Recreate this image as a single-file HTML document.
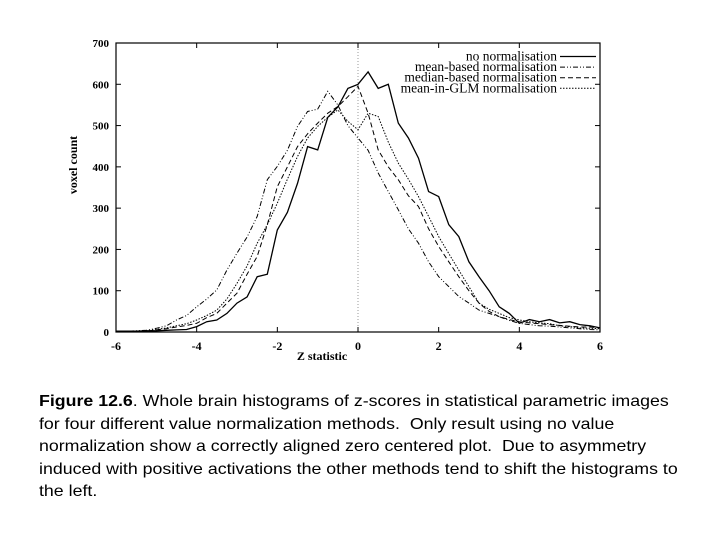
<!DOCTYPE html>
<html><head><meta charset="utf-8"><style>
body{margin:0;background:#fff;width:720px;height:540px;overflow:hidden;position:relative}
.cap{position:absolute;left:39px;top:391px;font:16px/22.5px "Liberation Sans",Arial,sans-serif;color:#000;white-space:nowrap;transform:scaleX(1.11);transform-origin:0 0}
</style></head><body>
<svg id="chart" width="720" height="380" style="position:absolute;left:0;top:0;font-family:'Liberation Serif',serif">
<g id="axes"></g><g id="series"></g><g id="legend"></g>
</svg>
<div class="cap"><b>Figure 12.6</b>. Whole brain histograms of z-scores in statistical parametric images<br>for four different value normalization methods.&nbsp; Only result using no value<br>normalization show a correctly aligned zero centered plot.&nbsp; Due to asymmetry<br>induced with positive activations the other methods tend to shift the histograms to<br>the left.</div>
<script>
const xs=[];for(let i=0;i<=48;i++)xs.push(-6+i*0.25);
const noNorm=[2,2,2,3,3,4,5,6,13,25,29,45,70,85,134,140,247,290,360,449,441,520,545,590,600,630,590,600,506,470,421,340,328,260,231,170,134,100,61,45,21,30,25,30,22,25,18,15,10];
const meanNorm=[1,2,3,4,9,15,29,40,61,80,102,150,191,230,280,369,401,440,498,534,540,583,550,500,470,440,385,340,296,250,215,170,134,110,86,70,53,45,37,28,21,18,15,14,12,10,8,6,5];
const medianNorm=[1,1,2,2,5,8,12,16,21,35,45,70,94,140,183,260,352,400,449,480,506,530,546,570,595,530,441,400,369,330,304,250,207,170,134,100,70,50,37,30,25,22,20,18,16,14,12,12,10];
const glmNorm=[1,1,2,3,6,10,15,20,29,40,53,80,118,160,215,260,312,370,425,470,498,520,538,510,490,530,522,460,409,370,328,280,231,190,150,110,70,55,45,35,29,25,22,20,15,13,10,9,8];
const xTicks=[-6,-4,-2,0,2,4,6];
const yTicks=[0,100,200,300,400,500,600,700];
const seriesNames=["no normalisation","mean-based normalisation","median-based normalisation","mean-in-GLM normalisation"];
const X0=116,X1=600,Y0=332,Y1=43;
const sx=v=>X0+(v+6)/12*(X1-X0);
const sy=v=>Y0-v/700*(Y0-Y1);
const NS="http://www.w3.org/2000/svg";
function mk(t,a,p){const e=document.createElementNS(NS,t);for(const k in a)e.setAttribute(k,a[k]);p.appendChild(e);return e;}
const ax=document.getElementById('axes');
let f=mk('rect',{x:X0,y:Y1,width:X1-X0,height:Y0-Y1,fill:'none',stroke:'#000','stroke-width':1.2},ax);

let z=mk('line',{x1:sx(0),x2:sx(0),y1:Y1,y2:Y0,stroke:'#999','stroke-dasharray':'1,2'},ax);

xTicks.forEach(t=>{
 mk('line',{x1:sx(t),x2:sx(t),y1:Y0,y2:Y0-5,stroke:'#000'},ax);mk('line',{x1:sx(t),x2:sx(t),y1:Y1,y2:Y1+5,stroke:'#000'},ax);
 const l=mk('text',{x:sx(t),y:Y0+18,'text-anchor':'middle','font-size':12,'font-weight':'bold'},ax);l.textContent=t;
 
});
yTicks.forEach(t=>{
 mk('line',{x1:X0,x2:X0+5,y1:sy(t),y2:sy(t),stroke:'#000'},ax);mk('line',{x1:X1,x2:X1-5,y1:sy(t),y2:sy(t),stroke:'#000'},ax);
 const l=mk('text',{x:X0-7,y:sy(t)+4,'text-anchor':'end','font-size':11,'font-weight':'bold'},ax);l.textContent=t;
 
});
let xt=mk('text',{x:322,y:360,'text-anchor':'middle','font-size':12,'font-weight':'bold'},ax);xt.textContent='Z statistic';

let yt=mk('text',{x:0,y:0,'text-anchor':'middle','font-size':12,'font-weight':'bold',transform:'translate(77,165) rotate(-90)'},ax);yt.textContent='voxel count';

const data=[noNorm,meanNorm,medianNorm,glmNorm];
const dashes=['none','5,2,1,2,1,2','5,3','1.5,1.5'];
const widths=[1.3,1,1,1];
const sg=document.getElementById('series'),lg=document.getElementById('legend');
data.forEach((arr,i)=>{
 const p=mk('path',{d:arr.map((v,j)=>(j?'L':'M')+sx(xs[j]).toFixed(1)+','+sy(v).toFixed(1)).join(''),fill:'none',stroke:'#000','stroke-width':widths[i],'stroke-dasharray':dashes[i]},sg);
 
 const y=56.5+i*10.6;
 const t=mk('text',{x:557,y:y+4,'text-anchor':'end','font-size':13.5,style:"font-family:'Liberation Serif',serif"},lg);t.textContent=seriesNames[i];
 
 mk('line',{x1:560,x2:596,y1:y,y2:y,stroke:'#000','stroke-width':widths[i],'stroke-dasharray':dashes[i]},lg);
});
</script>
</body></html>
